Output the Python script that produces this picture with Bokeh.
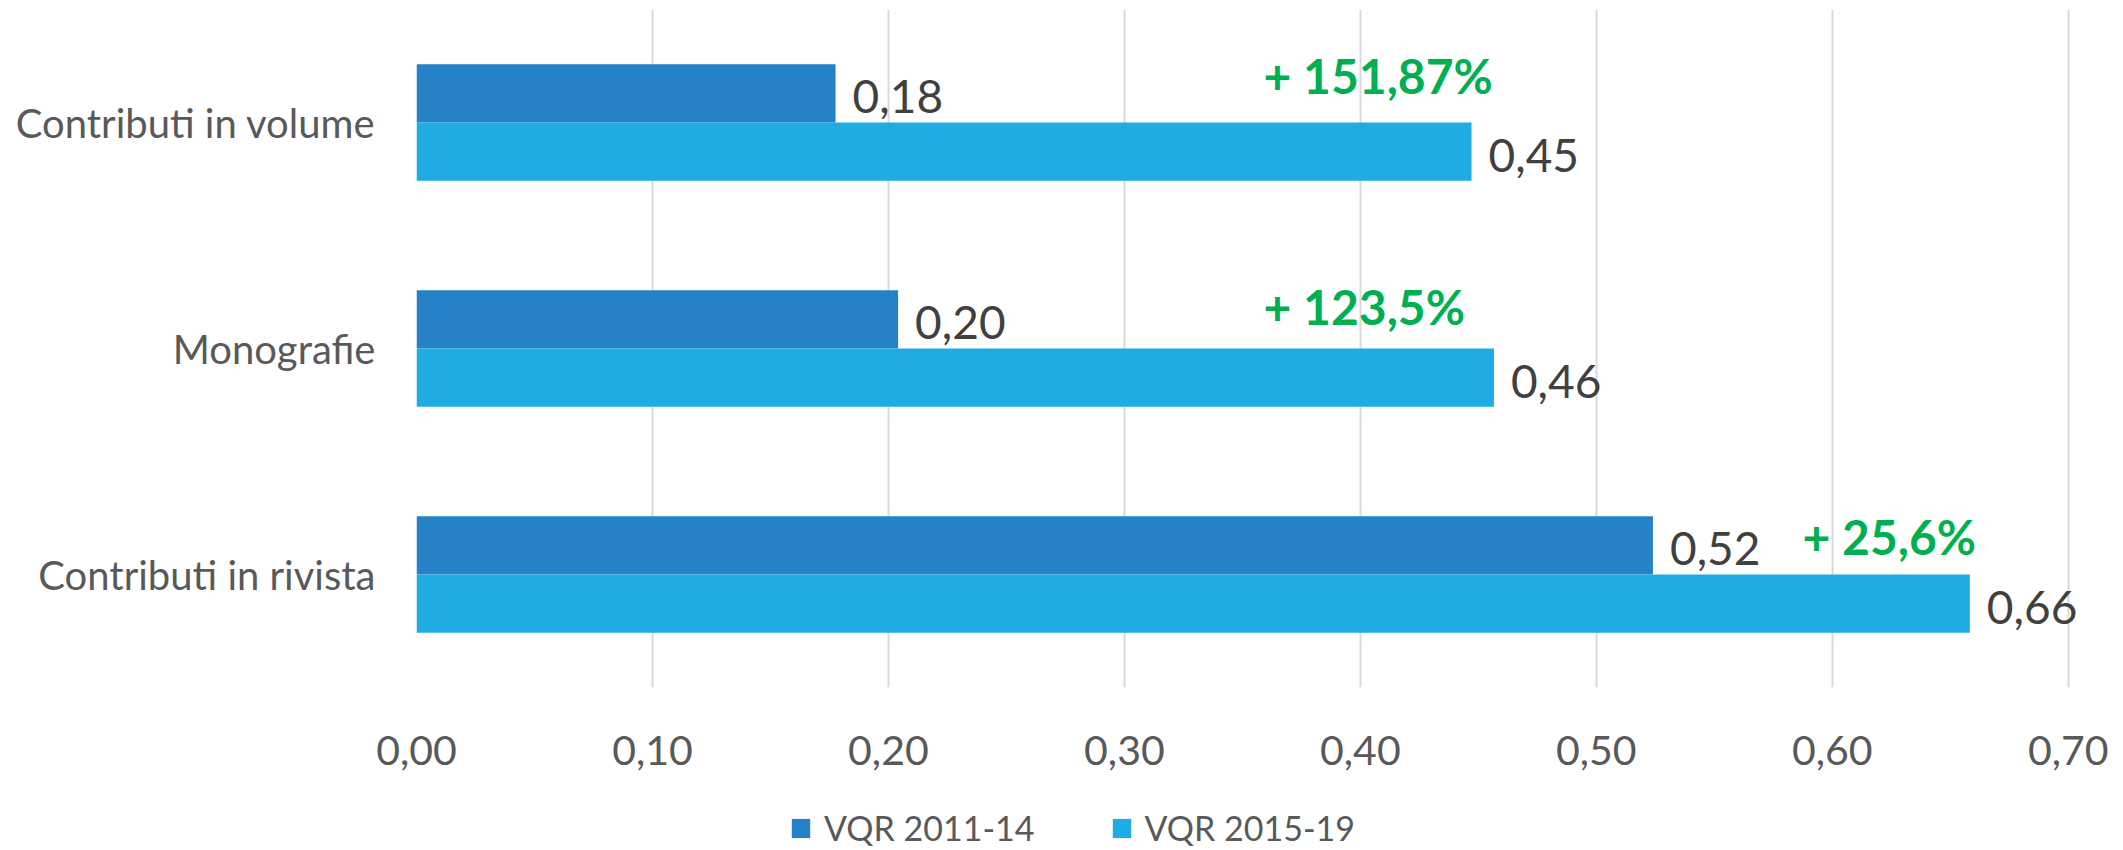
from bokeh.plotting import figure
from bokeh.layouts import column
from bokeh.models import FactorRange, Range1d, FixedTicker, Legend, LegendItem, ColumnDataSource
from bokeh.transform import dodge
from bokeh.core.properties import value
from bokeh.embed import file_html
from bokeh.resources import INLINE

# ---- data ----
categories = ["Contributi in rivista", "Monografie", "Contributi in volume"]
vqr_2011_14 = [0.524, 0.2041, 0.1776]
vqr_2015_19 = [0.6583, 0.4566, 0.4471]
labels_2011_14 = ["0,52", "0,20", "0,18"]
labels_2015_19 = ["0,66", "0,46", "0,45"]
growth_labels = ["+ 25,6%", "+ 123,5%", "+ 151,87%"]
series_names = ["VQR 2011-14", "VQR 2015-19"]
x_ticks = [0.0, 0.1, 0.2, 0.3, 0.4, 0.5, 0.6, 0.7]
x_tick_labels = ["0,00", "0,10", "0,20", "0,30", "0,40", "0,50", "0,60", "0,70"]

# annotation anchors (layout, not data)
growth_x = [0.5874, 0.359, 0.359]
growth_dy = [0.168, 0.186, 0.208]

DARK = "#2682C6"
LIGHT = "#1EACE2"
GREEN = "#00B050"
GREY = "#595959"
VAL = "#404040"
FONT = "Lato"

src = ColumnDataSource(dict(cat=categories, a=vqr_2011_14, b=vqr_2015_19,
                            la=labels_2011_14, lb=labels_2015_19))

W = 2118
p = figure(width=W, height=790, output_backend="svg", toolbar_location=None,
           y_range=FactorRange(factors=categories, range_padding=0),
           x_range=Range1d(0, 0.7179),
           min_border_left=416, min_border_right=8, min_border_top=9,
           min_border_bottom=103)
p.outline_line_color = None
p.background_fill_color = "white"
p.border_fill_color = "white"

BAR_H = 0.258
OFF = 0.129
r1 = p.hbar(y=dodge("cat", OFF, range=p.y_range), right="a", left=0, height=BAR_H,
            source=src, fill_color=DARK, line_color=None)
r2 = p.hbar(y=dodge("cat", -OFF, range=p.y_range), right="b", left=0, height=BAR_H,
            source=src, fill_color=LIGHT, line_color=None)

# value labels
LBL_DY = 0.015
p.text(x="a", y=dodge("cat", OFF - LBL_DY, range=p.y_range), text="la", source=src,
       x_offset=17, text_font=value(FONT), text_font_size="46px", text_color=VAL,
       text_baseline="alphabetic", text_align="left")
p.text(x="b", y=dodge("cat", -OFF - LBL_DY, range=p.y_range), text="lb", source=src,
       x_offset=17, text_font=value(FONT), text_font_size="46px", text_color=VAL,
       text_baseline="alphabetic", text_align="left")

# growth annotations
for c, gx, dy, t in zip(categories, growth_x, growth_dy, growth_labels):
    p.text(x=[gx], y=[(c, dy)], text=[t], text_font=value(FONT), text_font_size="48px",
           text_font_style="bold", text_color=GREEN, text_baseline="alphabetic",
           text_align="left")

# axes
p.xaxis.ticker = FixedTicker(ticks=x_ticks)
p.xaxis.major_label_overrides = {t: l for t, l in zip(x_ticks, x_tick_labels)}
p.xaxis.axis_line_color = None
p.xaxis.major_tick_line_color = None
p.xaxis.minor_tick_line_color = None
p.xaxis.major_tick_out = 0
p.xaxis.major_label_standoff = 48
p.xaxis.major_label_text_font = FONT
p.xaxis.major_label_text_font_size = "41px"
p.xaxis.major_label_text_color = GREY

p.yaxis.axis_line_color = None
p.yaxis.major_tick_line_color = None
p.yaxis.major_tick_out = 0
p.yaxis.major_label_standoff = 41
p.yaxis.major_label_text_font = FONT
p.yaxis.major_label_text_font_size = "40px"
p.yaxis.major_label_text_color = GREY

p.ygrid.grid_line_color = None
p.xgrid.grid_line_color = "#D9D9D9"
p.xgrid.grid_line_width = 2

# ---- legend strip (hidden copies of the series supply the swatches) ----
p2 = figure(width=W, height=60, output_backend="svg", toolbar_location=None,
            x_axis_type=None, y_axis_type=None,
            x_range=Range1d(0, 1), y_range=FactorRange(factors=categories),
            min_border_left=0, min_border_right=0, min_border_top=0, min_border_bottom=0)
p2.outline_line_color = None
p2.grid.grid_line_color = None
d1 = p2.hbar(y="cat", right="a", left=0, height=0.4, source=src,
             fill_color=DARK, line_color=None, visible=False)
d2 = p2.hbar(y="cat", right="b", left=0, height=0.4, source=src,
             fill_color=LIGHT, line_color=None, visible=False)
legend = Legend(items=[LegendItem(label=series_names[0], renderers=[d1], index=0),
                       LegendItem(label=series_names[1], renderers=[d2], index=0)],
                orientation="horizontal", location=(373, 2),
                padding=0, margin=0, spacing=75, label_standoff=12,
                glyph_width=23, glyph_height=24, label_height=24,
                border_line_color=None, background_fill_alpha=0,
                inactive_fill_alpha=0,
                label_text_font=FONT, label_text_font_size="34px",
                label_text_color=GREY)
p2.add_layout(legend, "center")

layout = column(p, p2, spacing=0)
open("out.html", "w").write(file_html(layout, INLINE))
